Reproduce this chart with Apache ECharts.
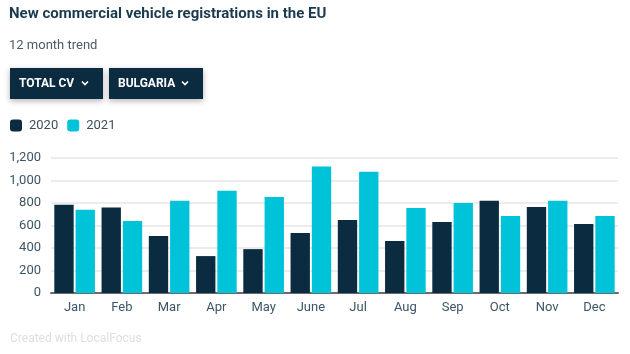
<!DOCTYPE html>
<html>
<head>
<meta charset="utf-8">
<script src="https://cdn.jsdelivr.net/npm/echarts@6/dist/echarts.min.js"></script>
<style>
  html, body { margin: 0; padding: 0; background: #fff; }
  #chart { width: 630px; height: 354px; }
</style>
</head>
<body>
<div id="chart"></div>
<script>
var months = ['Jan', 'Feb', 'Mar', 'Apr', 'May', 'June', 'Jul', 'Aug', 'Sep', 'Oct', 'Nov', 'Dec'];
var reg2020 = [785, 760, 506, 328, 390, 533, 649, 462, 631, 819, 765, 613];
var reg2021 = [740, 640, 819, 908, 854, 1125, 1078, 756, 801, 685, 819, 685];
var yTicks = [0, 200, 400, 600, 800, 1000, 1200];
var buttons = ['TOTAL CV', 'BULGARIA'];

var FONT = 'Roboto, sans-serif';
var DARK = '#0a2b40';
var CYAN = '#00c3da';

var chart = echarts.init(document.getElementById('chart'));

function button(label, x, w) {
	return {
		type: 'group',
		left: x,
		top: 68,
		children: [
			{
				type: 'rect',
				shape: { x: 0, y: 0, width: w, height: 31 },
				style: { fill: DARK, shadowBlur: 6, shadowOffsetY: 2, shadowColor: 'rgba(0,0,0,0.3)' }
			},
			{
				type: 'text',
				x: 9, y: 15.5,
				style: { text: label, fill: '#fff', font: 'bold 12px ' + FONT, verticalAlign: 'middle' }
			},
			{
				type: 'polyline',
				shape: { points: [[w - 21, 13.5], [w - 18, 16.5], [w - 15, 13.5]] },
				style: { stroke: '#fff', lineWidth: 1.6, fill: null }
			}
		]
	};
}

var option = {
	animation: false,
	textStyle: { fontFamily: FONT },
	title: {
		text: 'New commercial vehicle registrations in the EU',
		subtext: '12 month trend',
		left: 4,
		top: 2,
		itemGap: 17,
		textStyle: { fontSize: 15, fontWeight: 'bold', color: '#1c3a4e', fontFamily: FONT },
		subtextStyle: { fontSize: 13, color: '#4d5b66', fontFamily: FONT }
	},
	legend: {
		left: 10,
		top: 119,
		padding: 0,
		icon: 'roundRect',
		itemWidth: 12,
		itemHeight: 12,
		itemGap: 9,
		textStyle: { fontSize: 13, color: '#3d4f5c', fontFamily: FONT, padding: [0, 0, 0, 2] },
		data: ['2020', '2021']
	},
	graphic: [
		button(buttons[0], 10, 93),
		button(buttons[1], 109, 94),
		{
			type: 'text',
			left: 10,
			top: 333,
			style: { text: 'Created with LocalFocus', fill: '#dedede', font: '12px ' + FONT }
		}
	],
	grid: { left: 51, right: 12, top: 158, bottom: 61, containLabel: false },
	xAxis: {
		type: 'category',
		data: months,
		axisTick: { show: false },
		axisLine: { lineStyle: { color: '#6b6b6b', width: 2 } },
		axisLabel: { fontSize: 13, color: '#3d5566', margin: 8 }
	},
	yAxis: {
		type: 'value',
		min: yTicks[0],
		max: yTicks[yTicks.length - 1],
		interval: 200,
		axisLine: { show: false },
		axisTick: { show: false },
		splitLine: { lineStyle: { color: '#ececec', width: 2 } },
		axisLabel: {
			fontSize: 13, color: '#3d5566', margin: 10,
			formatter: function (v) { return v.toLocaleString('en-US'); }
		}
	},
	series: [
		{ name: '2020', type: 'bar', data: reg2020, itemStyle: { color: DARK }, barGap: '10%', barCategoryGap: '14%' },
		{ name: '2021', type: 'bar', data: reg2021, itemStyle: { color: CYAN } }
	]
};

chart.setOption(option);
</script>
</body>
</html>
